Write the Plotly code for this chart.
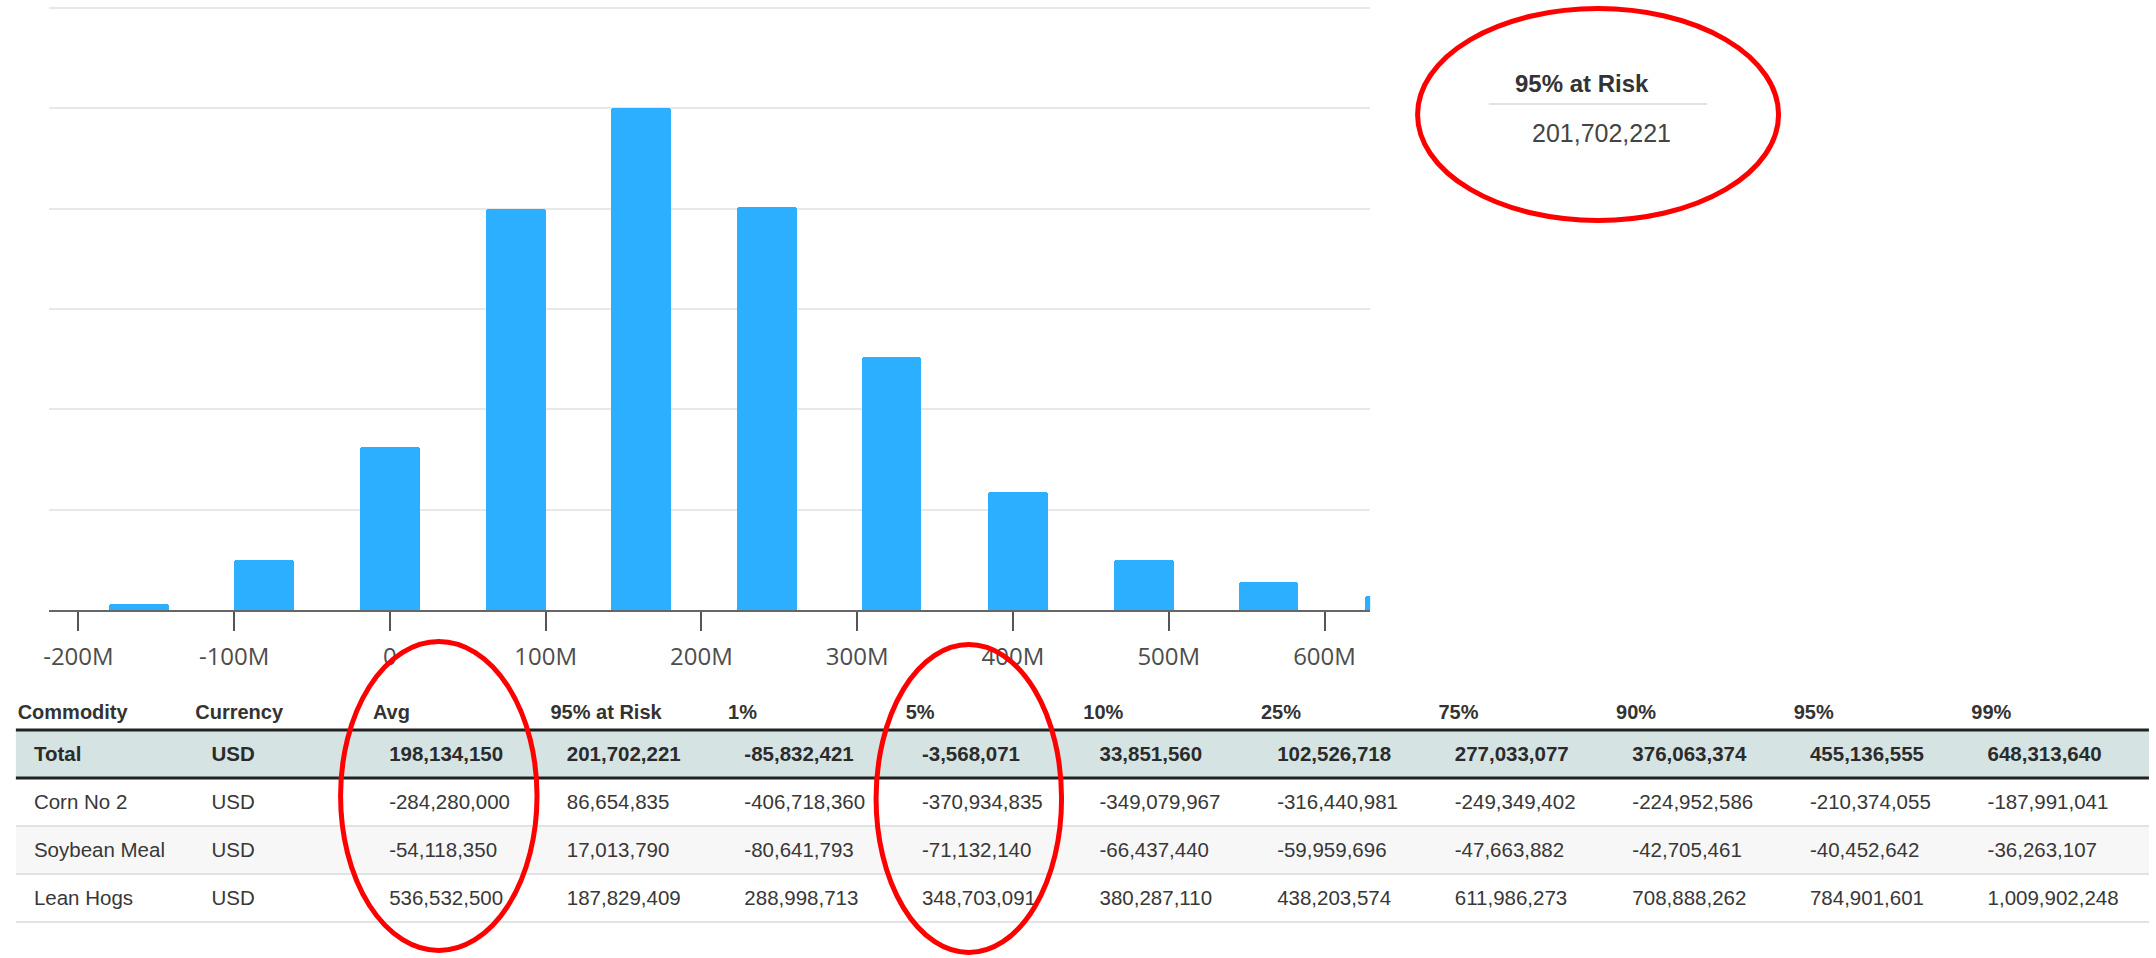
import plotly.graph_objects as go

# ---------------- data ----------------
# histogram of simulated P&L (bin centres in USD millions, bar heights in count units)
bin_centers_m = [-161, -81, 0, 81, 161, 242, 322, 403, 484, 564, 645]
bin_counts = [6, 50, 162, 400, 500, 402, 252, 118, 50, 28, 14]
x_tick_vals_m = [-200, -100, 0, 100, 200, 300, 400, 500, 600]
x_tick_text = ["-200M", "-100M", "0", "100M", "200M", "300M", "400M", "500M", "600M"]
y_grid_vals = [100, 200, 300, 400, 500, 600]

summary_label = "95% at Risk"
summary_value = "201,702,221"

columns = ["Commodity", "Currency", "Avg", "95% at Risk", "1%", "5%", "10%",
           "25%", "75%", "90%", "95%", "99%"]
commodities = ["Total", "Corn No 2", "Soybean Meal", "Lean Hogs"]
currencies = ["USD", "USD", "USD", "USD"]
avg = [198134150, -284280000, -54118350, 536532500]
risk95 = [201702221, 86654835, 17013790, 187829409]
p1 = [-85832421, -406718360, -80641793, 288998713]
p5 = [-3568071, -370934835, -71132140, 348703091]
p10 = [33851560, -349079967, -66437440, 380287110]
p25 = [102526718, -316440981, -59959696, 438203574]
p75 = [277033077, -249349402, -47663882, 611986273]
p90 = [376063374, -224952586, -42705461, 708888262]
p95 = [455136555, -210374055, -40452642, 784901601]
p99 = [648313640, -187991041, -36263107, 1009902248]

# ---------------- geometry / style ----------------
W, H = 2156, 958
def fx(p):
    return p / W
def fy(p):
    return 1 - p / H

ZERO_PX, PX_PER_100M = 385.0, 156.2
PLOT_L, PLOT_R, PLOT_B = 43, 1368, 610
Y_TOP = 602                      # a little headroom so the 600 gridline is drawn
PX_PER_UNIT = (610 - 8) / 600.0
PLOT_T = PLOT_B - Y_TOP * PX_PER_UNIT
COL_PITCH, COL0_PX = 178.1, 11.7
ROW_PITCH, ROW0_PX = 48.0, 706.0     # row r centre at ROW0_PX + r*ROW_PITCH
TABLE_TOP_PX = 680
DATA_INDENT = 16.3 / COL_PITCH
HEADER_R = (712 - ROW0_PX) / ROW_PITCH
FS_HEAD, FS_CELL = 20, 20.5
TABLE_FONT = "Liberation Sans, Arial, sans-serif"

def text_shift(fs):
    return 0.108 * fs / ROW_PITCH

fig = go.Figure()

# ---------------- histogram ----------------
fig.add_trace(go.Bar(
    x=[v * 1e6 for v in bin_centers_m], y=bin_counts,
    width=38.3e6,
    marker=dict(color="#2cafff", line=dict(width=0), cornerradius=3),
    xaxis="x", yaxis="y", showlegend=False, hoverinfo="skip",
))

# ---------------- table ----------------
rows = []
for i in range(len(commodities)):
    vals = [avg[i], risk95[i], p1[i], p5[i], p10[i], p25[i], p75[i], p90[i], p95[i], p99[i]]
    rows.append([commodities[i], currencies[i]] + [f"{v:,}" for v in vals])

ncol = len(columns)
fig.add_trace(go.Scatter(
    x=list(range(ncol)), y=[HEADER_R + text_shift(FS_HEAD)] * ncol,
    text=columns, mode="text", textposition="middle right",
    textfont=dict(family=TABLE_FONT, size=FS_HEAD, color="#333333", weight="bold"),
    xaxis="x2", yaxis="y2", showlegend=False, hoverinfo="skip",
))
for i, row in enumerate(rows):
    r = i + 1
    fig.add_trace(go.Scatter(
        x=[j + DATA_INDENT for j in range(ncol)], y=[r + text_shift(FS_CELL)] * ncol,
        text=row, mode="text", textposition="middle right",
        textfont=dict(family=TABLE_FONT, size=FS_CELL,
                      color="#2b2b2b" if i == 0 else "#383838",
                      weight="bold" if i == 0 else "normal"),
        xaxis="x2", yaxis="y2", showlegend=False, hoverinfo="skip",
    ))

shapes = []
tx0, tx1 = -0.01, ncol
# row fills
shapes.append(dict(type="rect", xref="x2", yref="y2", x0=tx0, x1=tx1, y0=0.5, y1=1.5,
                   fillcolor="#d5e3e2", line=dict(width=0), layer="below"))
shapes.append(dict(type="rect", xref="x2", yref="y2", x0=tx0, x1=tx1, y0=2.5, y1=3.5,
                   fillcolor="#f7f7f7", line=dict(width=0), layer="below"))
# row rules
for k in range(len(commodities) + 1):
    yb = k + 0.5
    heavy = k < 2
    shapes.append(dict(type="line", xref="x2", yref="y2", x0=tx0, x1=tx1, y0=yb, y1=yb,
                       line=dict(color="#222222" if heavy else "#e2e2e2",
                                 width=3 if heavy else 2)))

# summary separator
shapes.append(dict(type="line", xref="paper", yref="paper",
                   x0=fx(1487), x1=fx(1706), y0=fy(104), y1=fy(104),
                   line=dict(color="#e3e3e3", width=2)))

# red hand-drawn highlight ellipses
for (x0, x1, y0, y1) in [(1415.5, 1777.5, 8.5, 220.5),
                         (335.5, 532.5, 641.5, 950.5),
                         (872.5, 1058.5, 644.5, 952.5)]:
    shapes.append(dict(type="circle", xref="paper", yref="paper",
                       x0=fx(x0), x1=fx(x1), y0=fy(y1), y1=fy(y0),
                       line=dict(color="#ff0000", width=5)))

annotations = [
    dict(text=summary_label, xref="paper", yref="paper", x=fx(1580.5), y=fy(83.5),
         xanchor="center", yanchor="middle", showarrow=False,
         font=dict(family=TABLE_FONT, size=24, color="#333333", weight="bold")),
    dict(text=summary_value, xref="paper", yref="paper", x=fx(1599.5), y=fy(132.5),
         xanchor="center", yanchor="middle", showarrow=False,
         font=dict(family=TABLE_FONT, size=25, color="#444444")),
]

fig.update_layout(
    width=W, height=H,
    margin=dict(l=0, r=0, t=0, b=0),
    paper_bgcolor="white", plot_bgcolor="white",
    bargap=0,
    shapes=shapes, annotations=annotations,
    xaxis=dict(
        domain=[fx(PLOT_L), fx(PLOT_R)],
        range=[(PLOT_L - ZERO_PX) / PX_PER_100M * 1e8, (PLOT_R - ZERO_PX) / PX_PER_100M * 1e8],
        tickmode="array", tickvals=[v * 1e6 for v in x_tick_vals_m], ticktext=x_tick_text,
        ticks="outside", ticklen=19, tickwidth=2, tickcolor="#555555",
        showline=True, linecolor="#666666", linewidth=2,
        showgrid=False, zeroline=False,
        tickfont=dict(family="Open Sans, sans-serif", size=24, color="#4d4d4d"),
        ticklabelstandoff=5,
        anchor="y", fixedrange=True,
    ),
    yaxis=dict(
        domain=[fy(PLOT_B), fy(PLOT_T)],
        range=[0, Y_TOP],
        tickmode="array", tickvals=y_grid_vals,
        showticklabels=False, ticks="",
        showgrid=True, gridcolor="#e8e8e8", gridwidth=2,
        zeroline=False, showline=False,
        anchor="x", fixedrange=True,
    ),
    xaxis2=dict(
        domain=[0, 1],
        range=[-COL0_PX / COL_PITCH, (W - COL0_PX) / COL_PITCH],
        visible=False, anchor="y2", fixedrange=True,
    ),
    yaxis2=dict(
        domain=[0, fy(TABLE_TOP_PX)],
        range=[(H - ROW0_PX) / ROW_PITCH, (TABLE_TOP_PX - ROW0_PX) / ROW_PITCH],
        visible=False, anchor="x2", fixedrange=True,
    ),
)

fig.write_html("out.html", config={"displayModeBar": False},
               post_script="document.body.style.margin='0';")
